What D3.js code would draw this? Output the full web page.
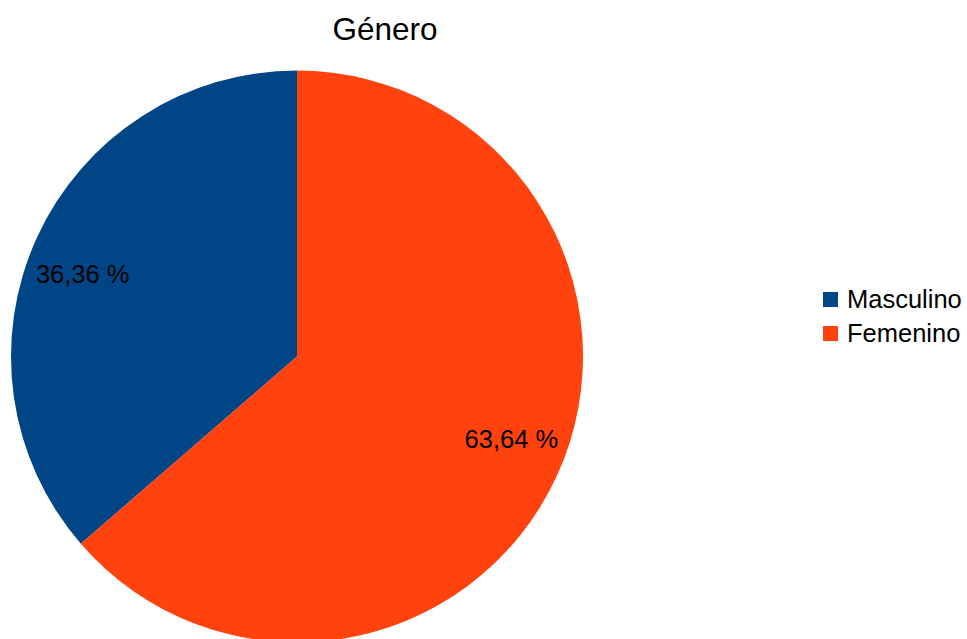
<!DOCTYPE html>
<html>
<head>
<meta charset="utf-8">
<script src="https://cdn.jsdelivr.net/npm/d3@7"></script>
<style>
  html, body { margin: 0; padding: 0; background: #ffffff; }
  svg { display: block; font-family: "Liberation Sans", Arial, sans-serif; }
</style>
</head>
<body>
<svg id="chart" width="967" height="639"></svg>
<script>
const chartTitle = "Género";
const categories = ["Masculino", "Femenino"];
const percentages = [36.36, 63.64];
const colors = ["#004586", "#ff420e"];

const svg = d3.select("#chart");
const cx = 297, cy = 356.5, radius = 286;

svg.append("text")
  .attr("x", 385)
  .attr("y", 40)
  .attr("text-anchor", "middle")
  .attr("font-size", 31.5)
  .attr("fill", "#000")
  .text(chartTitle);

const data = categories.map((c, i) => ({ name: c, value: percentages[i] }));

// Slices run counter-clockwise from 12 o'clock
const pie = d3.pie().sort(null).value(d => d.value)
  .startAngle(0).endAngle(-2 * Math.PI);
const arcs = pie(data);

const color = d3.scaleOrdinal().domain(categories).range(colors);
const arc = d3.arc().innerRadius(0).outerRadius(radius);

const g = svg.append("g").attr("transform", `translate(${cx},${cy})`);

g.selectAll("path.slice")
  .data(arcs)
  .join("path")
  .attr("class", "slice")
  .attr("d", arc)
  .attr("fill", d => color(d.data.name));

const fmt = v => v.toFixed(2).replace(".", ",") + " %";

// Value labels sit at 80% of the radius, nudged slightly around the rim
const labelR = radius * 0.803;
const labelShift = -3.5 * Math.PI / 180;
const labelPos = d => {
  const a = (d.startAngle + d.endAngle) / 2 + labelShift;
  return [labelR * Math.sin(a), -labelR * Math.cos(a)];
};

g.selectAll("text.lbl")
  .data(arcs)
  .join("text")
  .attr("class", "lbl")
  .attr("transform", d => `translate(${labelPos(d)})`)
  .attr("text-anchor", "middle")
  .attr("dy", "0.35em")
  .attr("font-size", 25.5)
  .attr("fill", "#000")
  .text(d => fmt(d.data.value));

// Legend
const legend = svg.append("g").attr("transform", "translate(823,292)");
const item = legend.selectAll("g.item")
  .data(categories)
  .join("g")
  .attr("class", "item")
  .attr("transform", (d, i) => `translate(0,${i * 34})`);
item.append("rect")
  .attr("width", 15).attr("height", 15)
  .attr("fill", d => color(d));
item.append("text")
  .attr("x", 24)
  .attr("y", 16)
  .attr("font-size", 25.5)
  .attr("fill", "#000")
  .text(d => d);
</script>
</body>
</html>
